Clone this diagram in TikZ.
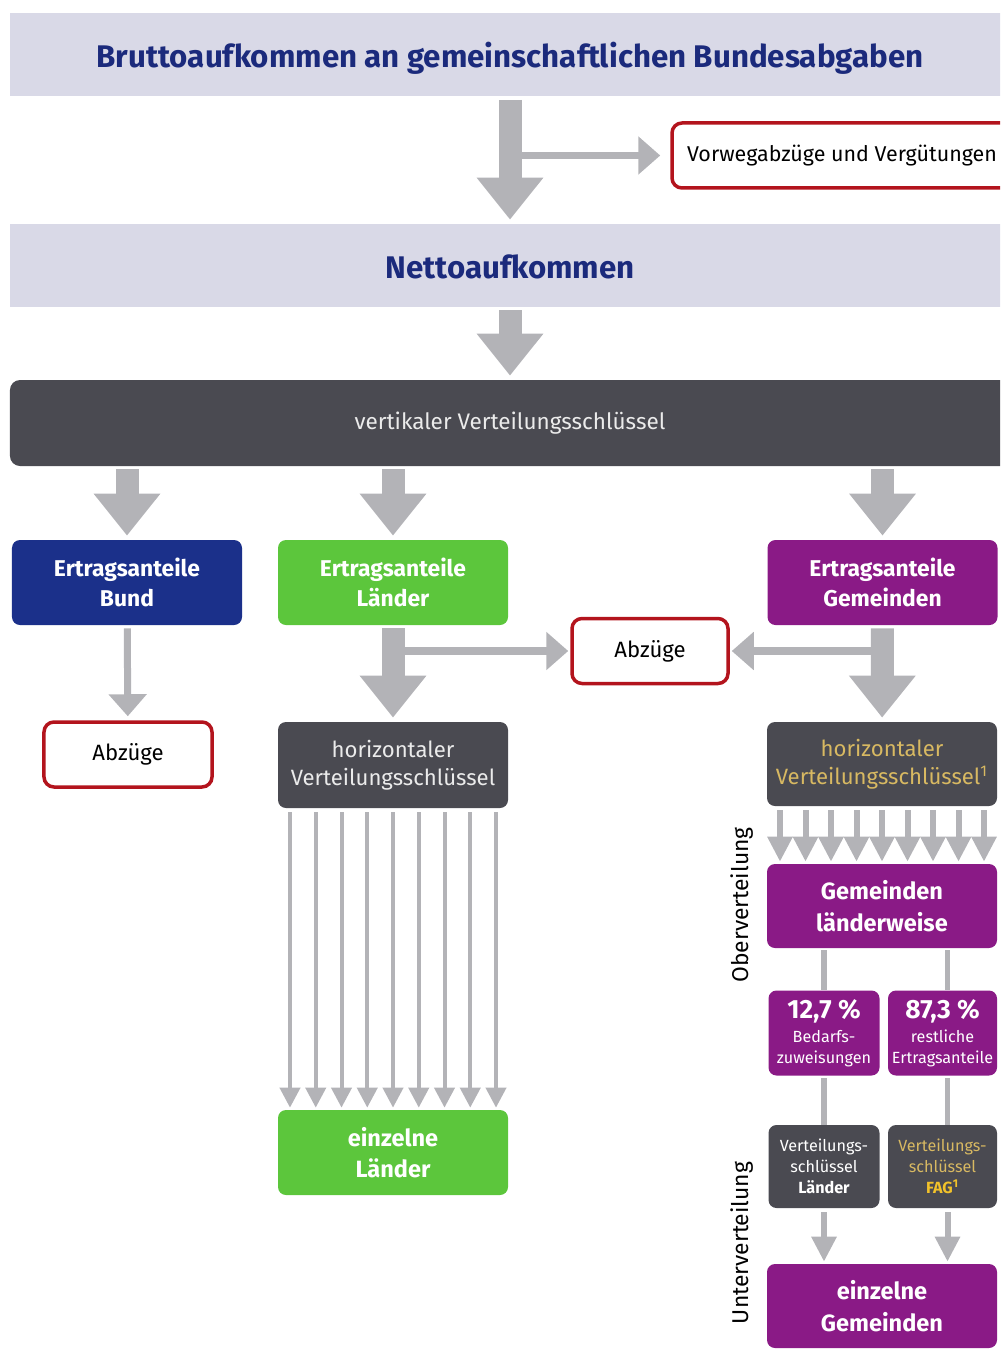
\documentclass[tikz,border=0pt]{standalone}
\usepackage{fontspec}
\setmainfont{Fira Sans}
\usetikzlibrary{arrows.meta}

\definecolor{bandgray}{HTML}{D9D9E7}
\definecolor{titleblue}{HTML}{1B2A7C}
\definecolor{keygray}{HTML}{4A4A51}
\definecolor{arrowgray}{HTML}{B3B3B7}
\definecolor{bundblue}{HTML}{1B308A}
\definecolor{landgreen}{HTML}{5CC63C}
\definecolor{gempurple}{HTML}{8A1A86}
\definecolor{abzred}{HTML}{B3141D}
\definecolor{keygold}{HTML}{D8B962}
\definecolor{faggold}{HTML}{F2C22A}

\begin{document}
\begin{tikzpicture}[x=0.2mm,y=-0.2mm,
  band/.style={fill=bandgray, minimum width=200mm, minimum height=16.6mm, inner sep=0pt,
    text=titleblue, font=\fontsize{17.8}{20}\selectfont\bfseries, text height=5.2mm, text depth=0mm},
  colbox/.style={rounded corners=1.6mm, minimum width=46mm, minimum height=17mm, inner sep=0pt,
    align=center, text=white, font=\fontsize{13}{17}\selectfont\bfseries},
  bundbox/.style={colbox, fill=bundblue},
  landbox/.style={colbox, fill=landgreen},
  gembox/.style={colbox, fill=gempurple},
  keybox/.style={colbox, fill=keygray, text=white!92!black, font=\fontsize{12.6}{16}\selectfont},
  smallbox/.style={colbox, minimum width=22.2mm, minimum height=17mm, font=\fontsize{9.2}{12}\selectfont},
  redbox/.style={draw=abzred, line width=0.7mm, fill=white, rounded corners=2mm, minimum height=13mm,
    inner sep=0pt, font=\fontsize{12.6}{14}\selectfont},
  sidelabel/.style={rotate=90, font=\fontsize{13}{15}\selectfont, text=black},
  bigarrow/.style={draw=arrowgray, line width=4.6mm, -{Triangle[length=8.4mm,width=12.8mm]},
    shorten <=0.6mm, shorten >=0.8mm},
  sidearrow/.style={draw=arrowgray, line width=1.5mm, -{Triangle[length=4.4mm,width=7.4mm]}},
  fanarrow/.style={draw=arrowgray, line width=0.8mm, -{Triangle[length=4mm,width=4mm]},
    shorten <=0.8mm, shorten >=0.4mm},
  shortarrow/.style={draw=arrowgray, line width=1.2mm, -{Triangle[length=5mm,width=4.8mm]},
    shorten <=0.8mm, shorten >=0.4mm},
  joinline/.style={draw=arrowgray, line width=1.1mm, shorten <=0.4mm}]

\useasboundingbox (0,0) rectangle (1000,1350);
\clip (0,0) rectangle (1000,1350);

% Aufkommen
\node[band] (brutto) at (510,55) {Bruttoaufkommen an gemeinschaftlichen Bundesabgaben};
\node[redbox, minimum width=68mm, font=\fontsize{12.2}{14}\selectfont] (vorweg) at (842,155.5) {Vorwegabzüge und Vergütungen};
\node[band] (netto) at (510,265.5) {Nettoaufkommen};
\node[keybox, rounded corners=2mm, minimum width=200mm, minimum height=17.2mm,
  font=\fontsize{12.8}{14}\selectfont] (vkey) at (510,423) {vertikaler Verteilungsschlüssel};

% Ertragsanteile
\node[bundbox] (bund) at (127,582.5) {Ertragsanteile\\Bund};
\node[landbox] (laender) at (393,582.5) {Ertragsanteile\\Länder};
\node[gembox] (gemeinden) at (882.5,582.5) {Ertragsanteile\\Gemeinden};

\node[redbox, minimum width=33.6mm] (abzbund) at (128,754.5) {Abzüge};
\node[redbox, minimum width=31.2mm] (abzmid) at (650,651) {Abzüge};

% Laender
\node[keybox, minimum height=17.2mm] (hkland) at (393,765) {horizontaler\\Verteilungsschlüssel};
\node[landbox, font=\fontsize{13.4}{18}\selectfont\bfseries] (einland) at (393,1152.5) {einzelne\\Länder};

% Gemeinden
\node[keybox, text=keygold, minimum height=16.8mm] (hkgem) at (882,764) {horizontaler\\Verteilungsschlüssel\textsuperscript{1}};
\node[gembox, minimum height=16.8mm, font=\fontsize{13.4}{18}\selectfont\bfseries] (gemlw) at (882,906) {Gemeinden\\länderweise};
\node[smallbox, fill=gempurple] (bedarf) at (824,1033)
  {{\fontsize{15}{17}\selectfont\bfseries 12,7~\%}\\[0.6mm]Bedarfs-\\zuweisungen};
\node[smallbox, fill=gempurple, minimum width=21.8mm] (rest) at (942.5,1033)
  {{\fontsize{15}{17}\selectfont\bfseries 87,3~\%}\\[0.6mm]restliche\\Ertragsanteile};
\node[smallbox, fill=keygray, minimum height=16.6mm] (vslaender) at (824,1166.5)
  {Verteilungs-\\schlüssel\\\textbf{Länder}};
\node[smallbox, fill=keygray, minimum height=16.6mm, minimum width=21.8mm, text=keygold] (vsfag) at (942.5,1166.5)
  {Verteilungs-\\schlüssel\\\textbf{\color{faggold}FAG\textsuperscript{1}}};
\node[gembox, minimum height=16.8mm, font=\fontsize{13.4}{18}\selectfont\bfseries] (eingem) at (882,1306) {einzelne\\Gemeinden};

\node[sidelabel] (ober) at (742,905) {Oberverteilung};
\node[sidelabel] (unter) at (742,1243) {Unterverteilung};

% Pfeile
\coordinate (vsplit) at (510,155.5);
\draw[bigarrow] (brutto) -- (netto);
\draw[sidearrow, shorten >=2mm] (vsplit) -- (vorweg);
\draw[bigarrow] (netto) -- (vkey);

\draw[bigarrow] (vkey.south -| bund) -- (bund);
\draw[bigarrow] (vkey.south -| laender) -- (laender);
\draw[bigarrow] (vkey.south -| gemeinden) -- (gemeinden);

\draw[sidearrow, line width=1.4mm, shorten <=0.6mm, shorten >=0.8mm] (bund) -- (abzbund);
\draw[sidearrow, shorten >=0.4mm] (laender.south |- abzmid) -- (abzmid);
\draw[sidearrow, shorten >=0.4mm] (gemeinden.south |- abzmid) -- (abzmid);
\draw[bigarrow] (laender) -- (hkland);
\draw[bigarrow] (gemeinden) -- (hkgem);

\foreach \i in {0,...,8}
  \draw[fanarrow] ([xshift={(\i-4)*5.15mm}]hkland.south) -- ([xshift={(\i-4)*5.15mm}]einland.north);
\foreach \i in {0,...,8}
  \draw[shortarrow] ([xshift={(\i-4)*5.1mm}]hkgem.south) -- ([xshift={(\i-4)*5.1mm}]gemlw.north);

\draw[joinline] (gemlw.south -| bedarf) -- (bedarf);
\draw[joinline] ([xshift=1mm]gemlw.south -| rest) -- ([xshift=1mm]rest.north);
\draw[joinline] (bedarf) -- (vslaender);
\draw[joinline] ([xshift=1mm]rest.south) -- ([xshift=1mm]vsfag.north);
\draw[shortarrow] (vslaender) -- (vslaender |- eingem.north);
\draw[shortarrow] ([xshift=1mm]vsfag.south) -- ([xshift=1mm]vsfag.south |- eingem.north);
\end{tikzpicture}
\end{document}
